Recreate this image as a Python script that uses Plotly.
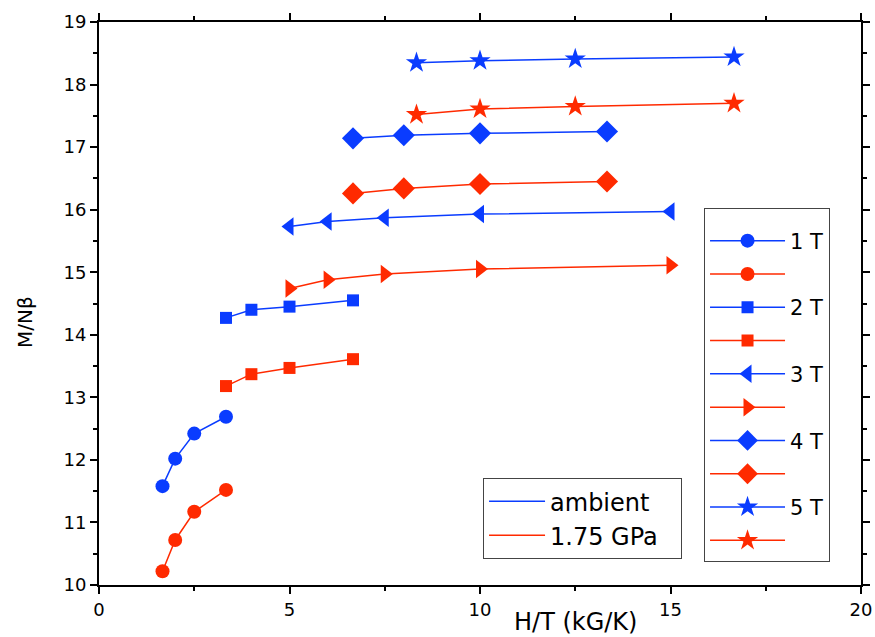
import plotly.graph_objects as go

# ---- data ----
x_1T = [1.667, 2.0, 2.5, 3.333]
y_1T_amb = [11.58, 12.02, 12.42, 12.69]
y_1T_p = [10.22, 10.72, 11.17, 11.52]

x_2T = [3.333, 4.0, 5.0, 6.667]
y_2T_amb = [14.27, 14.40, 14.45, 14.55]
y_2T_p = [13.18, 13.37, 13.47, 13.61]

x_3T = [5.0, 6.0, 7.5, 10.0, 15.0]
y_3T_amb = [15.73, 15.81, 15.87, 15.93, 15.97]
y_3T_p = [14.74, 14.88, 14.97, 15.05, 15.11]

x_4T = [6.667, 8.0, 10.0, 13.333]
y_4T_amb = [17.14, 17.19, 17.22, 17.25]
y_4T_p = [16.26, 16.34, 16.41, 16.45]

x_5T = [8.333, 10.0, 12.5, 16.667]
y_5T_amb = [18.35, 18.38, 18.41, 18.44]
y_5T_p = [17.52, 17.61, 17.65, 17.70]

field_labels = ["1 T", "2 T", "3 T", "4 T", "5 T"]
pressure_labels = ["ambient", "1.75 GPa"]

BLUE = "#0a3cff"
RED = "#ff2a00"
FONT = "DejaVu Sans, Liberation Sans, Arial, sans-serif"

series = [
    (x_1T, y_1T_amb, y_1T_p, "circle", "circle", 14, 14),
    (x_2T, y_2T_amb, y_2T_p, "square", "square", 12, 12),
    (x_3T, y_3T_amb, y_3T_p, "triangle-left", "triangle-right", 16, 16),
    (x_4T, y_4T_amb, y_4T_p, "diamond", "diamond", 17, 17),
    (x_5T, y_5T_amb, y_5T_p, "star", "star", 16, 16),
]

fig = go.Figure()

gi = 0
for lab, (xs, ya, yp, sa, sp, ma, mp) in zip(field_labels, series):
    fig.add_trace(go.Scatter(
        x=xs, y=ya, mode="lines+markers", name=lab,
        line=dict(color=BLUE, width=1.5),
        marker=dict(symbol=sa, size=ma, color=BLUE),
        legend="legend", legendgroup=f"g{gi}"))
    gi += 1
    fig.add_trace(go.Scatter(
        x=xs, y=yp, mode="lines+markers", name=" ",
        line=dict(color=RED, width=1.5),
        marker=dict(symbol=sp, size=mp, color=RED),
        legend="legend", legendgroup=f"g{gi}"))
    gi += 1

for lab, col, pad in zip(pressure_labels, [BLUE, RED], ["", "\u2800"]):
    fig.add_trace(go.Scatter(
        x=[None], y=[None], mode="lines", name=lab + pad,
        line=dict(color=col, width=1.5), legend="legend2"))

axis_common = dict(showline=True, linecolor="black", linewidth=2, mirror="ticks",
                   showgrid=False, zeroline=False, automargin=False,
                   tickfont=dict(family=FONT, size=18, color="black"),
                   tickcolor="black", tickwidth=2)

fig.update_layout(
    width=875, height=637,
    margin=dict(l=99, r=14, t=22, b=52),
    plot_bgcolor="white", paper_bgcolor="white",
    font=dict(family=FONT, color="black"),
    xaxis=dict(range=[0, 20], dtick=5, ticks="outside", ticklen=7,
               minor=dict(ticks="outside", ticklen=4, dtick=2.5, tickcolor="black", tickwidth=2),
               **axis_common),
    yaxis=dict(range=[10, 19], dtick=1, ticks="outside", ticklen=7,
               minor=dict(ticks="outside", ticklen=4, dtick=0.5, tickcolor="black", tickwidth=2),
               **axis_common),
    legend=dict(x=0.794, y=0.670, xanchor="left", yanchor="top",
                bgcolor="white", bordercolor="#444444", borderwidth=1,
                font=dict(family=FONT, size=21, color="black"),
                title=dict(text=" ", font=dict(size=9)),
                tracegroupgap=3, itemwidth=75),
    legend2=dict(x=0.504, y=0.190, xanchor="left", yanchor="top",
                 bgcolor="white", bordercolor="#444444", borderwidth=1,
                 font=dict(family=FONT, size=24, color="black"),
                 itemwidth=56),
    showlegend=True,
    annotations=[
        dict(text="H/T (kG/K)", xref="paper", yref="paper",
             x=0.625, y=0, yshift=-37, xanchor="center", yanchor="middle",
             showarrow=False, font=dict(family=FONT, size=24, color="black")),
        dict(text="M/Nβ", xref="paper", yref="paper", textangle=-90,
             x=0, xshift=-74, y=0.467, xanchor="center", yanchor="middle",
             showarrow=False, font=dict(family=FONT, size=20, color="black")),
    ],
)

fig.write_html("out.html")
